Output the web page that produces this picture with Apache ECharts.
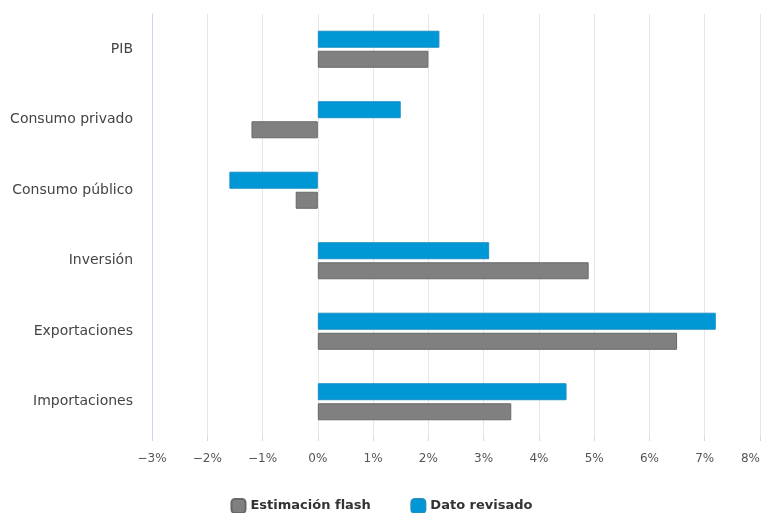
<!DOCTYPE html>
<html lang="es">
<head>
    <meta charset="UTF-8">
    <title>Estimación flash vs dato revisado</title>
    <style>
        * {
            margin: 0px;
            padding: 0px;
        }

        #main {
            width: 763px;
            height: 513px;
        }
    </style>
</head>
<body>
<div id="main"></div>
<script src="https://cdn.jsdelivr.net/npm/echarts@6/dist/echarts.min.js"></script>
<script type="text/javascript">
    // datos
    var categorias = ['PIB', 'Consumo privado', 'Consumo público', 'Inversión', 'Exportaciones', 'Importaciones'];
    var estimacionFlash = [2.0, -1.2, -0.4, 4.9, 6.5, 3.5];
    var datoRevisado = [2.2, 1.5, -1.6, 3.1, 7.2, 4.5];

    var fuente = '"DejaVu Sans", Verdana, sans-serif';

    var myChart = echarts.init(document.getElementById('main'));
    // el dato revisado va primero para que quede arriba en cada categoría
    myChart.setOption({
        animation: false,
        textStyle: {fontFamily: fuente},
        grid: {left: 152, right: 1, top: 14, bottom: 76, containLabel: false},
        legend: {
            top: 493,
            left: 'center',
            itemWidth: 14,
            itemHeight: 14,
            itemGap: 40,
            icon: 'roundRect',
            textStyle: {fontFamily: fuente, fontSize: 13, fontWeight: 'bold', color: '#333'},
            data: ['Estimación flash', 'Dato revisado']
        },
        xAxis: {
            type: 'value',
            min: -3,
            max: 8,
            interval: 1,
            axisLine: {show: false},
            axisTick: {show: true, length: 4, lineStyle: {color: '#ccd6eb'}},
            splitLine: {lineStyle: {color: '#e6e6e6', width: 1}},
            axisLabel: {
                color: '#555',
                fontSize: 12,
                margin: 16,
                alignMaxLabel: 'right',
                formatter: function (v) {
                    return (v < 0 ? '\u2212' : '') + Math.abs(v) + '%';
                }
            }
        },
        yAxis: {
            type: 'category',
            inverse: true,
            data: categorias,
            axisLine: {onZero: false, lineStyle: {color: '#ccd6eb'}},
            axisTick: {show: false},
            axisLabel: {color: '#444', fontSize: 14, margin: 19}
        },
        series: [
            {
                name: 'Dato revisado',
                type: 'bar',
                data: datoRevisado,
                barWidth: 17,
                barGap: '18%',
                itemStyle: {color: '#0097d7', borderColor: '#1a8fc4', borderWidth: 1}
            },
            {
                name: 'Estimación flash',
                type: 'bar',
                data: estimacionFlash,
                barWidth: 17,
                barGap: '18%',
                itemStyle: {color: '#808080', borderColor: '#686868', borderWidth: 1}
            }
        ]
    });
</script>
</body>
</html>
